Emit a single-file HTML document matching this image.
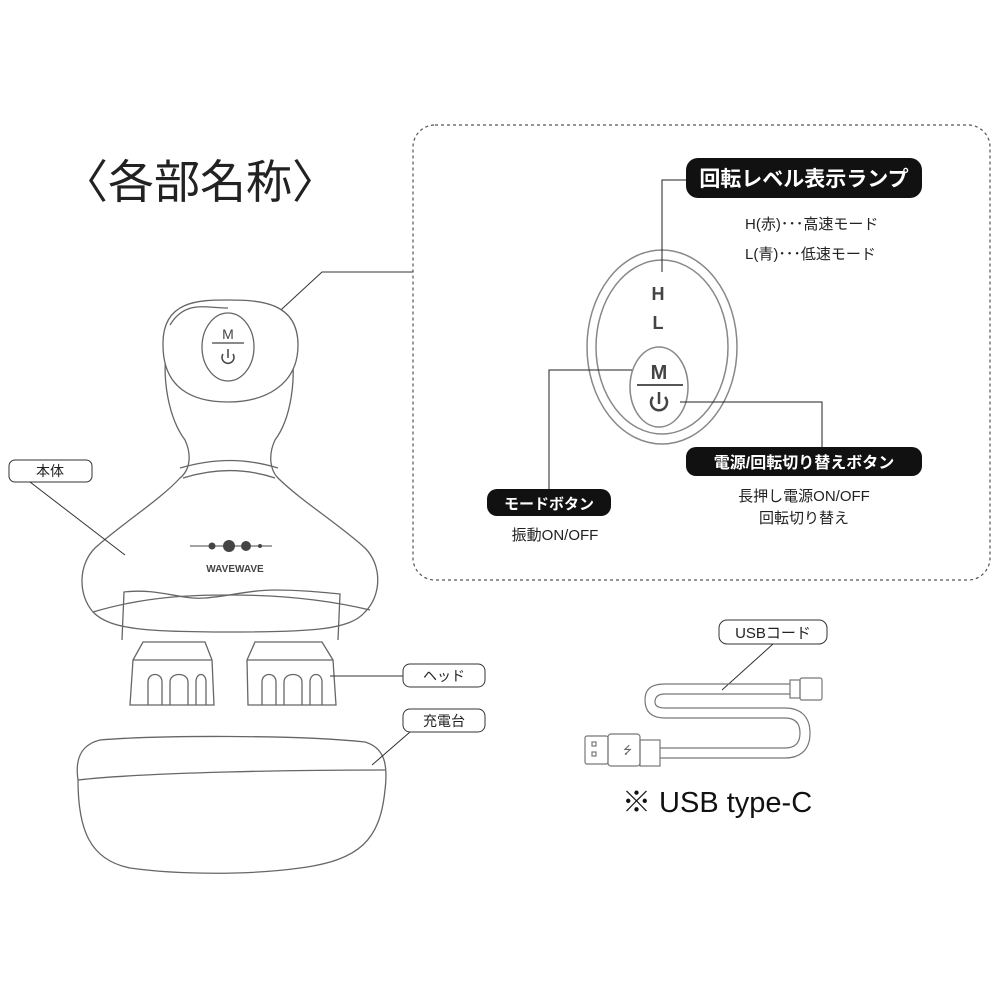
<!DOCTYPE html>
<html><head><meta charset="utf-8"><style>
html,body{margin:0;padding:0;background:#fff;}
svg{display:block;}
text{font-family:"Liberation Sans","Noto Sans CJK JP",sans-serif;}
</style></head><body>
<svg width="1000" height="1000" viewBox="0 0 1000 1000" xmlns="http://www.w3.org/2000/svg">
<rect width="1000" height="1000" fill="#fff"/>
<text x="62" y="198" font-size="46" fill="#222">〈各部名称〉</text>

<rect x="413" y="125" width="577" height="455" rx="22" fill="none" stroke="#555" stroke-width="1.2" stroke-dasharray="3,3"/>
<polyline points="270,320 322,272 413,272" fill="none" stroke="#333" stroke-width="1"/>

<ellipse cx="662" cy="347" rx="75" ry="97" fill="none" stroke="#888" stroke-width="1.5"/>
<ellipse cx="662" cy="347" rx="66" ry="87" fill="none" stroke="#888" stroke-width="1.5"/>
<ellipse cx="659" cy="387" rx="29" ry="40" fill="none" stroke="#888" stroke-width="1.5"/>
<line x1="637" y1="385" x2="683" y2="385" stroke="#555" stroke-width="2"/>
<text x="658" y="300" font-size="18" font-weight="bold" fill="#444" text-anchor="middle">H</text>
<text x="658" y="329" font-size="18" font-weight="bold" fill="#444" text-anchor="middle">L</text>
<text x="659" y="379" font-size="20" font-weight="bold" fill="#444" text-anchor="middle">M</text>
<path d="M653,397 A8,8 0 1,0 665,397" fill="none" stroke="#444" stroke-width="2.5"/>
<line x1="659" y1="392" x2="659" y2="404" stroke="#444" stroke-width="2.5"/>

<polyline points="687,180 662,180 662,272" fill="none" stroke="#222" stroke-width="1"/>
<rect x="686" y="158" width="236" height="40" rx="12" fill="#111"/>
<text x="804" y="186" font-size="21" font-weight="bold" fill="#fff" text-anchor="middle">回転レベル表示ランプ</text>
<text x="745" y="229" font-size="15" fill="#222">H(赤)･･･高速モード</text>
<text x="745" y="259" font-size="15" fill="#222">L(青)･･･低速モード</text>

<polyline points="680,402 822,402 822,448" fill="none" stroke="#222" stroke-width="1"/>
<rect x="686" y="447" width="236" height="29" rx="10" fill="#111"/>
<text x="804" y="468" font-size="16" font-weight="bold" fill="#fff" text-anchor="middle">電源/回転切り替えボタン</text>
<text x="804" y="501" font-size="15" fill="#222" text-anchor="middle">長押し電源ON/OFF</text>
<text x="804" y="523" font-size="15" fill="#222" text-anchor="middle">回転切り替え</text>

<polyline points="632,370 549,370 549,490" fill="none" stroke="#222" stroke-width="1"/>
<rect x="487" y="489" width="124" height="27" rx="10" fill="#111"/>
<text x="549" y="509" font-size="15" font-weight="bold" fill="#fff" text-anchor="middle">モードボタン</text>
<text x="555" y="540" font-size="15" fill="#222" text-anchor="middle">振動ON/OFF</text>

<g fill="none" stroke="#666" stroke-width="1.3">
<path d="M168,340 C160,380 170,420 185,440 C192,455 190,470 180,478 C160,500 120,525 95,548 C78,565 78,595 93,612 C110,630 150,632 230,632 C310,632 350,630 365,612 C382,595 382,565 365,548 C340,525 300,500 278,478 C270,470 268,455 275,440 C290,420 298,380 290,340"/>
<path d="M163,345 C162,300 200,300 228,300 C260,300 298,302 298,345 C298,385 265,402 228,402 C192,402 163,388 163,345Z" fill="#fff"/>
<path d="M170,325 C185,300 205,308 228,308"/>
<ellipse cx="228" cy="347" rx="26" ry="34"/>
<path d="M180,468 C215,458 245,458 278,468"/>
<path d="M183,478 C215,468 245,468 275,478"/>
<path d="M93,612 C150,595 200,595 230,595 C270,595 320,598 370,610"/>
<path d="M122,640 L124,592 C160,588 180,600 205,598 C230,596 250,590 275,590 C300,590 320,592 340,594 L338,640"/>
<path d="M133,660 L143,642 L205,642 L212,660 L214,705 L130,705 Z M148,705 L148,682 C148,672 162,672 162,682 L162,705 M170,705 L170,682 C170,672 188,672 188,682 L188,705 M196,705 L196,682 C196,672 206,672 206,682 L206,705"/>
<path d="M133,660 L212,660 M247,660 L333,660"/>
<path d="M247,660 L255,642 L322,642 L333,660 L336,705 L248,705 Z M262,705 L262,682 C262,672 276,672 276,682 L276,705 M284,705 L284,682 C284,672 302,672 302,682 L302,705 M310,705 L310,682 C310,672 322,672 322,682 L322,705"/>
<path d="M78,780 C75,760 80,745 100,740 C160,735 300,735 365,742 C385,748 388,765 385,790 C380,840 360,860 300,868 C250,875 180,875 130,868 C90,860 78,830 78,780Z"/>
<path d="M78,780 C150,772 300,770 385,770"/>
</g>
<text x="235" y="572" font-size="10" fill="#444" text-anchor="middle" font-weight="bold">WAVEWAVE</text>
<line x1="190" y1="546" x2="272" y2="546" stroke="#444" stroke-width="1"/>
<circle cx="212" cy="546" r="3.5" fill="#444"/><circle cx="229" cy="546" r="6" fill="#444"/><circle cx="246" cy="546" r="5" fill="#444"/><circle cx="260" cy="546" r="2" fill="#444"/>
<text x="228" y="339" font-size="14" fill="#444" text-anchor="middle">M</text>
<line x1="212" y1="343" x2="244" y2="343" stroke="#444" stroke-width="1.2"/>
<path d="M223,354 A6,6 0 1,0 233,354" fill="none" stroke="#444" stroke-width="1.5"/>
<line x1="228" y1="349" x2="228" y2="358" stroke="#444" stroke-width="1.5"/>

<rect x="9" y="460" width="83" height="22" rx="6" fill="#fff" stroke="#333"/>
<text x="50" y="476" font-size="14" fill="#222" text-anchor="middle">本体</text>
<line x1="30" y1="482" x2="125" y2="555" stroke="#333"/>
<rect x="403" y="664" width="82" height="23" rx="7" fill="#fff" stroke="#333"/>
<text x="444" y="681" font-size="14" fill="#222" text-anchor="middle">ヘッド</text>
<line x1="330" y1="676" x2="403" y2="676" stroke="#333"/>
<rect x="403" y="709" width="82" height="23" rx="7" fill="#fff" stroke="#333"/>
<text x="444" y="726" font-size="14" fill="#222" text-anchor="middle">充電台</text>
<line x1="372" y1="765" x2="410" y2="732" stroke="#333"/>

<rect x="719" y="620" width="108" height="24" rx="8" fill="#fff" stroke="#333"/>
<text x="773" y="638" font-size="15" fill="#222" text-anchor="middle">USBコード</text>
<line x1="722" y1="690" x2="773" y2="644" stroke="#333"/>
<g fill="none" stroke="#777" stroke-width="1.2">
<path d="M790,684 L665,684 C650,684 645,690 645,700 C645,712 652,718 665,718 L785,718 C795,718 800,723 800,733 C800,745 793,748 785,748 L660,748"/>
<path d="M790,694 L665,694 C658,694 655,697 655,702 C655,706 658,708 665,708 L785,708 C800,708 810,716 810,733 C810,752 798,758 785,758 L660,758"/>
<rect x="790" y="680" width="10" height="18"/><rect x="800" y="678" width="22" height="22" rx="2"/>
<rect x="640" y="740" width="20" height="26"/><rect x="608" y="734" width="32" height="32" rx="3"/><rect x="585" y="736" width="23" height="28" rx="2"/>
<rect x="592" y="742" width="4" height="4"/><rect x="592" y="752" width="4" height="4"/>
</g>
<text x="623" y="754" font-size="11" fill="#666">⭍</text>
<text x="622" y="812" font-size="29" fill="#111">※ USB type-C</text>
</svg>
</body></html>
